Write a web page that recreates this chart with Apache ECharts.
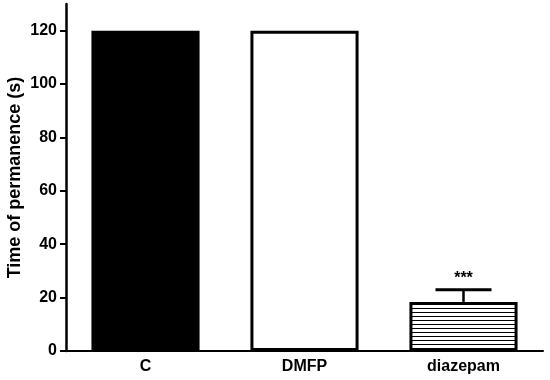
<!DOCTYPE html>
<html><head><meta charset="utf-8">
<script src="https://cdn.jsdelivr.net/npm/echarts@6/dist/echarts.min.js"></script>
<style>html,body{margin:0;padding:0;background:#fff}#c{width:550px;height:380px}</style>
</head><body><div id="c"></div>
<script>
const categories = ['C', 'DMFP', 'diazepam'];
const means = [120, 120, 18.4];
const errors = [0, 0, 4.5];
const signif = ['', '', '***'];
const yTicks = [0, 20, 40, 60, 80, 100, 120];

const pc = document.createElement('canvas');
pc.width = 4; pc.height = 4;
const ctx = pc.getContext('2d');
ctx.fillStyle = '#fff'; ctx.fillRect(0, 0, 4, 4);
ctx.fillStyle = '#000'; ctx.fillRect(0, 0, 4, 1);

const fills = ['#000', '#fff', {image: pc, repeat: 'repeat'}];
const font = '"Liberation Sans", Arial, sans-serif';

const chart = echarts.init(document.getElementById('c'), null, {renderer: 'canvas'});
chart.setOption({
  animation: false,
  grid: {left: 66, right: 7, top: 4, bottom: 29, containLabel: false, outerBoundsMode: 'none'},
  xAxis: {
    type: 'category', data: categories,
    axisLine: {lineStyle: {color: '#000', width: 2}},
    axisTick: {alignWithLabel: true, length: 6, lineStyle: {color: '#000', width: 2}},
    axisLabel: {color: '#000', fontWeight: 'bold', fontSize: 16, fontFamily: font, margin: 8}
  },
  yAxis: {
    type: 'value', min: 0, max: 130, interval: 20,
    name: 'Time of permanence (s)', nameLocation: 'middle', nameGap: 42, nameMoveOverlap: false,
    nameTextStyle: {color: '#000', fontWeight: 'bold', fontSize: 18, fontFamily: font},
    splitLine: {show: false},
    axisLine: {show: true, lineStyle: {color: '#000', width: 2.5}},
    axisTick: {show: true, length: 6, customValues: yTicks, lineStyle: {color: '#000', width: 2}},
    axisLabel: {color: '#000', fontWeight: 'bold', fontSize: 16, fontFamily: font, margin: 9, customValues: yTicks}
  },
  series: [
    {
      type: 'bar', barWidth: '68%',
      data: means.map((v, i) => ({value: v, itemStyle: {color: fills[i]}})),
      itemStyle: {borderColor: '#000', borderWidth: 3}
    },
    {
      type: 'custom',
      data: means.map((v, i) => [i, v, errors[i]]),
      renderItem: function (params, api) {
        const i = api.value(0), v = api.value(1), e = api.value(2);
        const s = signif[i];
        const children = [];
        if (e > 0) {
          const base = api.coord([i, v]);
          const top = api.coord([i, v + e]);
          const half = 28;
          children.push({type: 'line', shape: {x1: base[0], y1: base[1], x2: top[0], y2: top[1]}, style: {stroke: '#000', lineWidth: 2.5}});
          children.push({type: 'line', shape: {x1: top[0] - half, y1: top[1], x2: top[0] + half, y2: top[1]}, style: {stroke: '#000', lineWidth: 3}});
        }
        if (s) {
          const top = api.coord([i, v + e]);
          children.push({type: 'text', style: {text: s, x: top[0], y: top[1] - 3, textAlign: 'center', textVerticalAlign: 'bottom', fill: '#000', font: 'bold 16px ' + font}});
        }
        return {type: 'group', children: children};
      },
      z: 5
    }
  ]
});
</script>
</body></html>
